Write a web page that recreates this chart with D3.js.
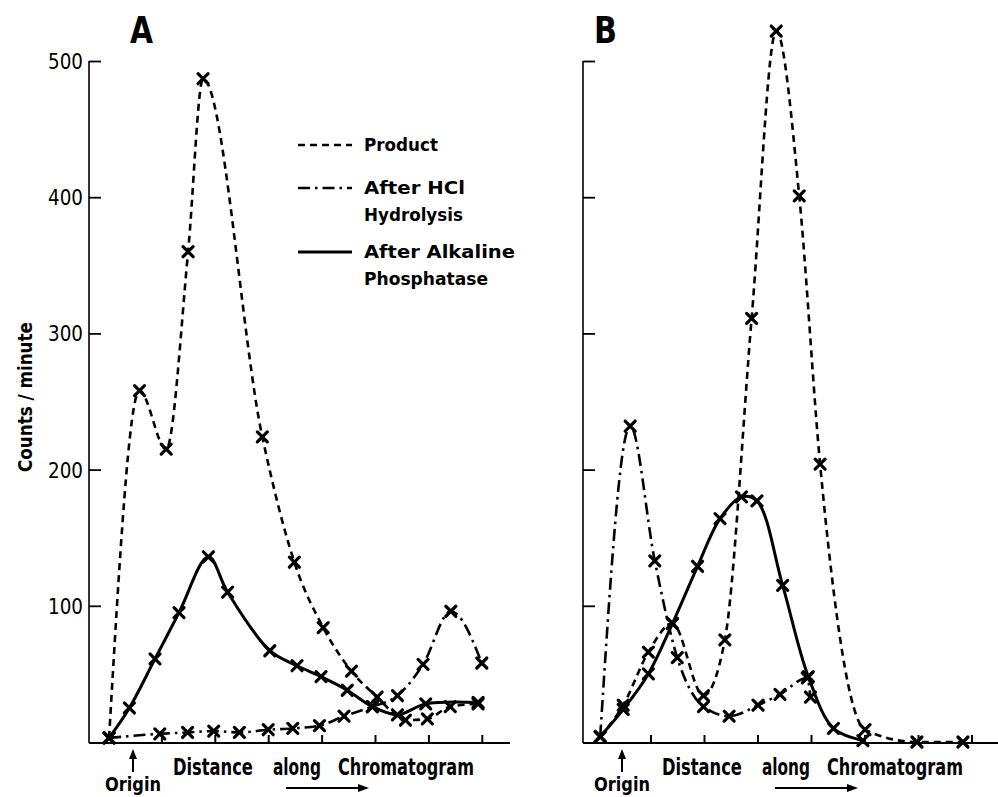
<!DOCTYPE html>
<html>
<head>
<meta charset="utf-8">
<script src="https://cdn.jsdelivr.net/npm/d3@7"></script>
<style>
  body { margin: 0; background: #fff; }
  svg { display: block; }
  text { font-family: "DejaVu Sans Condensed", "Liberation Sans Narrow", "DejaVu Sans", sans-serif; fill: #000; }
</style>
</head>
<body>
<svg id="chart" width="998" height="797"></svg>
<script>
// tick values
var xTicks = [1, 2, 3, 4, 5, 6, 7];
var yTicks = [100, 200, 300, 400, 500];

// panel A (distance in tick units, counts / minute)
var productA_x = [0.02, 0.59, 1.09, 1.50, 1.78, 2.89, 3.49, 4.03, 4.56, 5.04, 5.57, 5.98, 6.41, 6.93];
var productA_y = [3, 258, 215, 360, 487, 224, 132, 84, 52, 33, 16, 17, 26, 28];
var hclA_x = [0.02, 0.97, 1.49, 1.98, 2.46, 3.00, 3.46, 3.96, 4.42, 4.95, 5.42, 5.90, 6.42, 7.00];
var hclA_y = [3, 6, 7, 8, 7, 9, 10, 12, 19, 26, 34, 57, 96, 58];
var alkA_x = [0.02, 0.40, 0.88, 1.33, 1.88, 2.24, 3.03, 3.54, 3.99, 4.48, 4.95, 5.42, 5.95, 6.93];
var alkA_y = [3, 25, 61, 95, 136, 110, 67, 56, 48, 38, 26, 20, 28, 29];

// panel B
var productB_x = [0.06, 0.49, 0.96, 1.41, 1.99, 2.39, 2.89, 3.35, 3.78, 4.17, 5.01, 5.98, 6.84];
var productB_y = [4, 27, 66, 87, 34, 75, 311, 522, 401, 204, 9, 0, 0];
var hclB_x = [0.06, 0.62, 1.08, 1.50, 1.99, 2.47, 3.01, 3.42, 3.93, 3.99];
var hclB_y = [4, 232, 133, 62, 26, 19, 27, 35, 47, 33];
var alkB_x = [0.06, 0.49, 0.96, 1.41, 1.88, 2.30, 2.70, 2.99, 3.47, 3.95, 4.42, 4.97];
var alkB_y = [4, 24, 50, 87, 129, 164, 180, 177, 115, 48, 10, 1];

var legendLabels = [["Product"], ["After HCl", "Hydrolysis"], ["After Alkaline", "Phosphatase"]];

var svg = d3.select("#chart");
var y = d3.scaleLinear().domain([0, 500]).range([742, 61]);

var styles = {
    product: { dash: "7,5", width: 2.6, curve: d3.curveMonotoneX },
    hcl: { dash: "12,5,2.5,5", width: 2.6, curve: d3.curveMonotoneX },
    alk: { dash: null, width: 3, curve: d3.curveCatmullRom }
};

function zip(xs, ys) {
    return xs.map(function (v, i) { return [v, ys[i]]; });
}

// text squeezed horizontally to a given width
function fitText(parent, str, x, yy, size, weight, width) {
    var g = parent.append("g");
    var t = g.append("text").text(str).style("font-size", size + "px").style("font-weight", weight);
    var w = t.node().getComputedTextLength();
    g.attr("transform", "translate(" + x + "," + yy + ") scale(" + (width / w) + ",1)");
    return g;
}

function drawPanel(p) {
    var x = d3.scaleLinear().domain([0, 7]).range([p.x0, p.x0 + 7 * p.step]);
    var g = svg.append("g");

    // axis lines
    g.append("line").attr("x1", p.axisX).attr("x2", p.axisX).attr("y1", 61).attr("y2", 743)
        .attr("stroke", "#000").attr("stroke-width", 1.6);
    g.append("line").attr("x1", p.axisX).attr("x2", p.endX).attr("y1", 743).attr("y2", 743)
        .attr("stroke", "#000").attr("stroke-width", 2);

    var yAxis = d3.axisLeft(y).tickValues(yTicks).tickSize(-12).tickSizeOuter(0).tickFormat("");
    var ya = g.append("g").attr("transform", "translate(" + p.axisX + ",0)").call(yAxis);
    ya.select(".domain").remove();
    ya.selectAll("line").attr("stroke-width", 1.8);
    if (p.labels) {
        yTicks.forEach(function (v) {
            fitText(g, d3.format("d")(v), p.axisX - 41, y(v) + 8, 22, "normal", 35);
        });
    }

    var xAxis = d3.axisBottom(x).tickValues(xTicks).tickSize(-8).tickSizeOuter(0).tickFormat("");
    var xa = g.append("g").attr("transform", "translate(0,743)").call(xAxis);
    xa.select(".domain").remove();
    xa.selectAll("line").attr("stroke-width", 2);

    // curves
    p.series.forEach(function (s) {
        var st = styles[s.kind];
        var pts = zip(s.x, s.y);
        var line = d3.line().x(function (d) { return x(d[0]); }).y(function (d) { return y(d[1]); }).curve(st.curve);
        g.append("path").attr("d", line(pts)).attr("fill", "none").attr("stroke", "#000")
            .attr("stroke-width", st.width).attr("stroke-dasharray", st.dash)
            .attr("stroke-linejoin", "round");
        g.selectAll(null).data(pts).enter().append("path")
            .attr("transform", function (d) { return "translate(" + x(d[0]) + "," + y(d[1]) + ")"; })
            .attr("d", "M-5,-5L5,5M-5,5L5,-5")
            .attr("stroke", "#000").attr("stroke-width", 3.2).attr("stroke-linecap", "round");
    });

    // panel letter
    fitText(g, p.name, p.letterX, 43, 38, "bold", 23);

    // x labels
    var o = x(0);
    fitText(g, "Origin", o - 3, 791, 19, 600, 56);
    g.append("line").attr("x1", o + 25).attr("x2", o + 25).attr("y1", 772).attr("y2", 752)
        .attr("stroke", "#000").attr("stroke-width", 2);
    g.append("path").attr("d", "M" + (o + 21) + ",759L" + (o + 25) + ",749L" + (o + 29) + ",759Z");

    var words = [["Distance", 65, 80], ["along", 165, 48], ["Chromatogram", 230, 136]];
    words.forEach(function (w) {
        fitText(g, w[0], o + w[1], 775, 23, 600, w[2]);
    });
    g.append("line").attr("x1", o + 178).attr("x2", o + 252).attr("y1", 788).attr("y2", 788)
        .attr("stroke", "#000").attr("stroke-width", 2);
    g.append("path").attr("d", "M" + (o + 250) + ",784L" + (o + 261) + ",788L" + (o + 250) + ",792Z");
}

drawPanel({
    name: "A", axisX: 89, x0: 108, step: 53.4, endX: 510, labels: true, letterX: 130,
    series: [
        { kind: "product", x: productA_x, y: productA_y },
        { kind: "hcl", x: hclA_x, y: hclA_y },
        { kind: "alk", x: alkA_x, y: alkA_y }
    ]
});
drawPanel({
    name: "B", axisX: 583, x0: 597, step: 53.5, endX: 998, labels: false, letterX: 594,
    series: [
        { kind: "product", x: productB_x, y: productB_y },
        { kind: "hcl", x: hclB_x, y: hclB_y },
        { kind: "alk", x: alkB_x, y: alkB_y }
    ]
});

// y label
var yl = svg.append("g").attr("transform", "translate(32,472) rotate(-90)");
fitText(yl, "Counts / minute", 0, 0, 19, 600, 150);

// legend
var legendY = [145, 188, 252];
var legendKinds = ["product", "hcl", "alk"];
var textLens = [[74], [101, 99], [151, 124]];
legendKinds.forEach(function (k, i) {
    var st = styles[k];
    svg.append("line").attr("x1", 298).attr("x2", 352).attr("y1", legendY[i]).attr("y2", legendY[i])
        .attr("stroke", "#000").attr("stroke-width", st.width).attr("stroke-dasharray", st.dash);
    legendLabels[i].forEach(function (t, j) {
        fitText(svg, t, 364, legendY[i] + 6 + j * 27, 18, 600, textLens[i][j]);
    });
});
</script>
</body>
</html>
